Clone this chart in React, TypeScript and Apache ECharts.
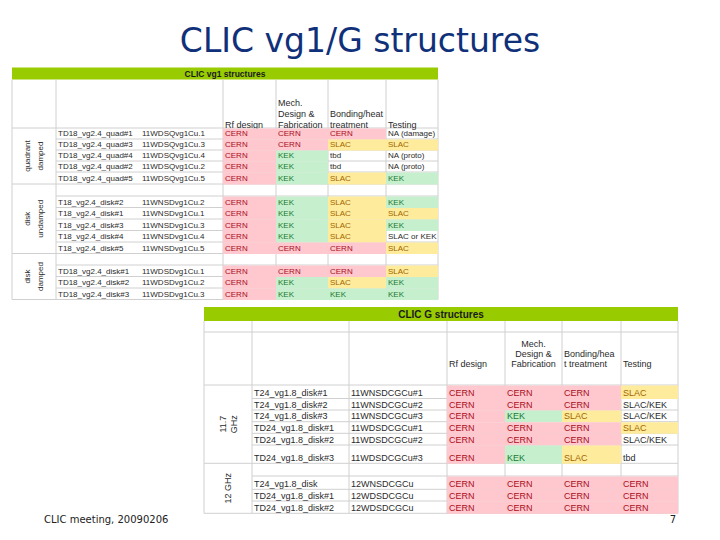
import React, { useEffect, useRef } from "react";
import * as echarts from "echarts";

// ---------------- data ----------------
const slideTitle = "CLIC vg1/G structures";
const footerLeft = "CLIC meeting, 20090206";
const footerRight = "7";

// Table 1: CLIC vg1 structures
const vg1Title = "CLIC vg1 structures";
const vg1Headers = ["Rf design", "Mech.\nDesign &\nFabrication", "Bonding/heat\ntreatment", "Testing"];
const vg1Groups = ["quadrant\ndamped", "disk\nundamped", "disk\ndamped"];
const vg1GroupEnds = [5, 11, 15];
const vg1Names = [
  "TD18_vg2.4_quad#1", "TD18_vg2.4_quad#3", "TD18_vg2.4_quad#4", "TD18_vg2.4_quad#2", "TD18_vg2.4_quad#5", "",
  "T18_vg2.4_disk#2", "T18_vg2.4_disk#1", "T18_vg2.4_disk#3", "T18_vg2.4_disk#4", "T18_vg2.4_disk#5", "",
  "TD18_vg2.4_disk#1", "TD18_vg2.4_disk#2", "TD18_vg2.4_disk#3",
];
const vg1Codes = [
  "11WDSQvg1Cu.1", "11WDSQvg1Cu.3", "11WDSQvg1Cu.4", "11WDSQvg1Cu.2", "11WDSQvg1Cu.5", "",
  "11WNSDvg1Cu.2", "11WNSDvg1Cu.1", "11WNSDvg1Cu.3", "11WNSDvg1Cu.4", "11WNSDvg1Cu.5", "",
  "11WDSDvg1Cu.1", "11WDSDvg1Cu.2", "11WDSDvg1Cu.3",
];
const vg1Rf = ["CERN", "CERN", "CERN", "CERN", "CERN", "", "CERN", "CERN", "CERN", "CERN", "CERN", "", "CERN", "CERN", "CERN"];
const vg1Mech = ["CERN", "CERN", "KEK", "KEK", "KEK", "", "KEK", "KEK", "KEK", "KEK", "CERN", "", "CERN", "KEK", "KEK"];
const vg1Bond = ["CERN", "SLAC", "tbd", "tbd", "SLAC", "", "SLAC", "SLAC", "SLAC", "SLAC", "CERN", "", "CERN", "SLAC", "KEK"];
const vg1Test = ["NA (damage)", "SLAC", "NA (proto)", "NA (proto)", "KEK", "", "KEK", "SLAC", "KEK", "SLAC or KEK", "SLAC", "", "SLAC", "KEK", "KEK"];

// Table 2: CLIC G structures
const gTitle = "CLIC G structures";
const gHeaders = ["Rf design", "Mech.\nDesign &\nFabrication", "Bonding/hea\nt treatment", "Testing"];
const gGroups = ["11.7\nGHz", "12 GHz"];
const gGroupEnds = [6, 10];
const gNames = [
  "T24_vg1.8_disk#1", "T24_vg1.8_disk#2", "T24_vg1.8_disk#3", "TD24_vg1.8_disk#1", "TD24_vg1.8_disk#2", "TD24_vg1.8_disk#3", "",
  "T24_vg1.8_disk", "TD24_vg1.8_disk#1", "TD24_vg1.8_disk#2",
];
const gCodes = [
  "11WNSDCGCu#1", "11WNSDCGCu#2", "11WNSDCGCu#3", "11WDSDCGCu#1", "11WDSDCGCu#2", "11WDSDCGCu#3", "",
  "12WNSDCGCu", "12WDSDCGCu", "12WDSDCGCu",
];
const gRf = ["CERN", "CERN", "CERN", "CERN", "CERN", "CERN", "", "CERN", "CERN", "CERN"];
const gMech = ["CERN", "CERN", "KEK", "CERN", "CERN", "KEK", "", "CERN", "CERN", "CERN"];
const gBond = ["CERN", "CERN", "SLAC", "CERN", "CERN", "SLAC", "", "CERN", "CERN", "CERN"];
const gTest = ["SLAC", "SLAC/KEK", "SLAC/KEK", "SLAC", "SLAC/KEK", "tbd", "", "CERN", "CERN", "CERN"];

// ---------------- styles / layout ----------------
const FONT = '"Liberation Sans", Arial, sans-serif';
const LINE = "#d0d0d0";
const GREEN = "#99CC00";
const FILL: Record<string, string> = { CERN: "#FFC7CE", KEK: "#C6EFCE", SLAC: "#FFEB9C" };
const INK: Record<string, string> = { CERN: "#a80f1c", KEK: "#1a7a2e", SLAC: "#9e6600" };

type Layout = {
  x: number[];
  titleTop: number;
  titleBottom: number;
  headTop: number;
  rows: number[];
  vlines: number[];
  titleSize: number;
  headSize: number;
  headLH: number;
  headTextBottom: number;
  headAlign: string[];
  dataSize: number;
  lift: number;
  groupSize: number;
  groupLH: number;
};

const vg1Layout: Layout = {
  x: [12, 56, 140, 223, 276, 328, 386, 438],
  titleTop: 67.5,
  titleBottom: 79.5,
  headTop: 79.5,
  rows: [128, 139, 150, 161, 172, 184, 196, 207.5, 219, 230.5, 242, 253.5, 265, 276.5, 288, 299.5],
  vlines: [0, 1, 3, 4, 5, 6, 7],
  titleSize: 8.5,
  headSize: 9,
  headLH: 10.7,
  headTextBottom: 130,
  headAlign: ["left", "left", "left", "left"],
  dataSize: 8,
  lift: 5.5,
  groupSize: 8,
  groupLH: 13,
};

const gLayout: Layout = {
  x: [204, 252, 349, 447, 505, 562, 621, 678],
  titleTop: 307,
  titleBottom: 321,
  headTop: 332,
  rows: [385, 398.5, 410, 421.7, 433.3, 445, 463.3, 476, 489.3, 501, 513.3],
  vlines: [0, 1, 2, 3, 4, 5, 6, 7],
  titleSize: 10,
  headSize: 9,
  headLH: 10,
  headTextBottom: 369,
  headAlign: ["left", "center", "left", "left"],
  dataSize: 9,
  lift: 5.5,
  groupSize: 9,
  groupLH: 11,
};

type Table = {
  title: string;
  headers: string[];
  groups: string[];
  groupEnds: number[];
  cols: string[][];
  L: Layout;
};

const tables: Table[] = [
  { title: vg1Title, headers: vg1Headers, groups: vg1Groups, groupEnds: vg1GroupEnds, cols: [vg1Names, vg1Codes, vg1Rf, vg1Mech, vg1Bond, vg1Test], L: vg1Layout },
  { title: gTitle, headers: gHeaders, groups: gGroups, groupEnds: gGroupEnds, cols: [gNames, gCodes, gRf, gMech, gBond, gTest], L: gLayout },
];

function line(a: number[], b: number[]) {
  return {
    type: "line",
    shape: { x1: a[0], y1: a[1], x2: b[0], y2: b[1] },
    style: { stroke: LINE, lineWidth: 1 },
  };
}

function buildSeries(T: Table, gi: number) {
  const L = T.L;
  const x0 = L.x[0];
  const x7 = L.x[L.x.length - 1];
  const yBottom = L.rows[L.rows.length - 1];

  const frame = {
    type: "custom",
    coordinateSystem: "cartesian2d",
    xAxisIndex: gi,
    yAxisIndex: gi,
    z: 1,
    silent: true,
    data: [[(x0 + x7) / 2, (L.titleTop + yBottom) / 2]],
    renderItem: (_p: any, api: any) => {
      const P = (x: number, y: number) => api.coord([x, y]);
      const children: any[] = [];
      const tl = P(x0, L.titleTop);
      const br = P(x7, L.titleBottom);
      children.push({
        type: "rect",
        shape: { x: tl[0], y: tl[1], width: br[0] - tl[0], height: br[1] - tl[1] },
        style: { fill: GREEN },
      });
      const tc = P((x0 + x7) / 2, (L.titleTop + L.titleBottom) / 2);
      children.push({
        type: "text",
        style: {
          text: T.title, x: tc[0], y: tc[1] + 0.5, fill: "#1a1a1a",
          fontSize: L.titleSize, fontWeight: "bold", fontFamily: FONT,
          align: "center", verticalAlign: "middle",
        },
      });
      // vertical lines
      for (const v of L.vlines) {
        children.push(line(P(L.x[v], L.titleBottom), P(L.x[v], yBottom)));
      }
      // blank row line in header
      if (L.headTop !== L.titleBottom) {
        children.push(line(P(x0, L.headTop), P(x7, L.headTop)));
      }
      // horizontal row lines
      for (let r = 0; r < L.rows.length; r++) {
        const full = r === 0 || T.groupEnds.includes(r);
        children.push(line(P(full ? x0 : L.x[1], L.rows[r]), P(x7, L.rows[r])));
      }
      // header texts
      T.headers.forEach((h, i) => {
        const left = L.x[3 + i];
        const right = L.x[4 + i];
        const center = L.headAlign[i] === "center";
        const pt = P(center ? (left + right) / 2 : left + 2, L.headTextBottom);
        children.push({
          type: "text",
          style: {
            text: h, x: pt[0], y: pt[1], fill: "#2b2b2b",
            fontSize: L.headSize, fontFamily: FONT, lineHeight: L.headLH,
            align: center ? "center" : "left", verticalAlign: "bottom",
          },
        });
      });
      // group labels (rotated)
      let start = 0;
      T.groups.forEach((g, i) => {
        const end = T.groupEnds[i];
        const c = P((L.x[0] + L.x[1]) / 2, (L.rows[start] + L.rows[end]) / 2);
        children.push({
          type: "text",
          x: c[0],
          y: c[1],
          rotation: Math.PI / 2,
          style: {
            text: g, x: 0, y: 0, fill: "#2b2b2b",
            fontSize: L.groupSize, fontFamily: FONT, lineHeight: L.groupLH,
            align: "center", verticalAlign: "middle",
          },
        });
        start = end;
      });
      return { type: "group", children };
    },
  };

  const cells: { value: number[]; text: string }[] = [];
  T.cols.forEach((col, c) => {
    col.forEach((text, r) => {
      if (!text) return;
      cells.push({
        value: [(L.x[c + 1] + L.x[c + 2]) / 2, (L.rows[r] + L.rows[r + 1]) / 2, c, r],
        text,
      });
    });
  });

  const cellSeries = {
    type: "custom",
    coordinateSystem: "cartesian2d",
    xAxisIndex: gi,
    yAxisIndex: gi,
    z: 2,
    silent: true,
    data: cells.map((d) => d.value),
    renderItem: (params: any, api: any) => {
      const cell = cells[params.dataIndex];
      const c = api.value(2);
      const r = api.value(3);
      const tl = api.coord([L.x[c + 1], L.rows[r]]);
      const br = api.coord([L.x[c + 2], L.rows[r + 1]]);
      const children: any[] = [];
      const fill = c >= 2 ? FILL[cell.text] : undefined;
      if (fill) {
        children.push({
          type: "rect",
          shape: { x: tl[0], y: tl[1] + 0.5, width: br[0] - tl[0], height: br[1] - tl[1] },
          style: { fill },
        });
      }
      children.push({
        type: "text",
        style: {
          text: cell.text, x: tl[0] + 2, y: br[1] - L.lift,
          fill: (c >= 2 && INK[cell.text]) || "#2a2a2a",
          fontSize: L.dataSize, fontFamily: FONT,
          align: "left", verticalAlign: "middle",
        },
      });
      return { type: "group", children };
    },
  };

  return [frame, cellSeries];
}

function buildOption() {
  const grids = tables.map((T) => {
    const L = T.L;
    const x0 = L.x[0];
    const x7 = L.x[L.x.length - 1];
    const yB = L.rows[L.rows.length - 1];
    return { left: x0, top: L.titleTop, width: x7 - x0, height: yB - L.titleTop, containLabel: false };
  });
  const xAxis = tables.map((T, i) => ({
    type: "value", gridIndex: i, show: false,
    min: T.L.x[0], max: T.L.x[T.L.x.length - 1],
  }));
  const yAxis = tables.map((T, i) => ({
    type: "value", gridIndex: i, show: false, inverse: true,
    min: T.L.titleTop, max: T.L.rows[T.L.rows.length - 1],
  }));
  const series = tables.flatMap((T, i) => buildSeries(T, i));
  return {
    animation: false,
    backgroundColor: "#ffffff",
    grid: grids,
    xAxis,
    yAxis,
    series,
    graphic: [
      {
        type: "text",
        x: 360,
        y: 40,
        style: {
          text: slideTitle, fill: "#10317a", fontSize: 33,
          fontFamily: '"DejaVu Sans", Verdana, sans-serif',
          align: "center", verticalAlign: "middle",
        },
      },
      {
        type: "text",
        x: 44,
        y: 519,
        style: {
          text: footerLeft, fill: "#222222", fontSize: 10,
          fontFamily: '"DejaVu Sans", Verdana, sans-serif',
          align: "left", verticalAlign: "middle",
        },
      },
      {
        type: "text",
        x: 676,
        y: 519,
        style: {
          text: footerRight, fill: "#222222", fontSize: 10,
          fontFamily: '"DejaVu Sans", Verdana, sans-serif',
          align: "right", verticalAlign: "middle",
        },
      },
    ],
  };
}

export default function App() {
  const ref = useRef<HTMLDivElement>(null);
  useEffect(() => {
    if (!ref.current) return;
    const chart = echarts.init(ref.current, null, { renderer: "svg", width: 720, height: 540 });
    chart.setOption(buildOption() as any);
    return () => chart.dispose();
  }, []);
  return (
    <div
      ref={ref}
      style={{ position: "fixed", left: 0, top: 0, width: 720, height: 540, background: "#ffffff" }}
    />
  );
}
